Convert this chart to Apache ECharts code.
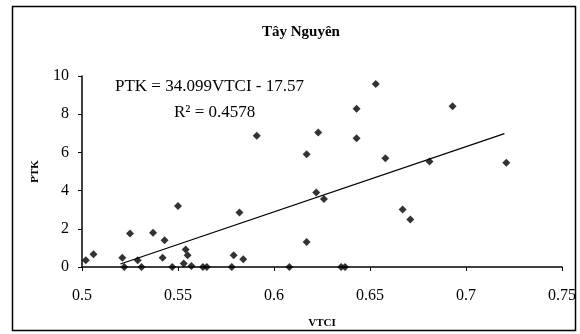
<!DOCTYPE html>
<html>
<head>
<meta charset="utf-8">
<script src="https://cdn.jsdelivr.net/npm/echarts@6/dist/echarts.min.js"></script>
<style>
html, body { margin: 0; padding: 0; background: #fff; }
#chart { width: 580px; height: 334px; }
</style>
</head>
<body>
<div id="chart"></div>
<script>
// VTCI values
const vtci = [0.502, 0.506, 0.521, 0.522, 0.525, 0.529, 0.531, 0.537, 0.543, 0.542,
  0.547, 0.550, 0.554, 0.555, 0.553, 0.557, 0.563, 0.565, 0.578, 0.579,
  0.582, 0.584, 0.591, 0.608, 0.617, 0.617, 0.622, 0.623, 0.626, 0.635,
  0.637, 0.643, 0.643, 0.653, 0.658, 0.667, 0.671, 0.681, 0.693, 0.721]
// PTK values
const ptk = [0.35, 0.67, 0.49, 0, 1.75, 0.35, 0, 1.79, 1.40, 0.49,
  0, 3.2, 0.91, 0.61, 0.18, 0.05, 0, 0, 0, 0.61,
  2.85, 0.40, 6.87, 0, 5.9, 1.31, 3.9, 7.04, 3.56, 0,
  0, 6.74, 8.28, 9.58, 5.69, 3.01, 2.49, 5.52, 8.42, 5.46]
// trend line ends (PTK = 34.099VTCI - 17.57)
const trendX = [0.52, 0.72]
const trendY = [0.16, 6.98]

const xTicks = [0.5, 0.55, 0.6, 0.65, 0.7, 0.75]
const yTicks = [0, 2, 4, 6, 8, 10]

const serif = '"Liberation Serif", "DejaVu Serif", serif'
const myChart = echarts.init(document.getElementById('chart'))

const option = {
  animation: false,
  backgroundColor: '#fff',
  title: {
    text: 'Tây Nguyên',
    left: 296,
    top: 20,
    textAlign: 'center',
    textStyle: { fontFamily: serif, fontSize: 15, fontWeight: 'bold', color: '#000' }
  },
  grid: { left: 82, right: 18, top: 76, bottom: 67 },
  xAxis: {
    type: 'value',
    min: xTicks[0],
    max: xTicks[xTicks.length - 1],
    interval: 0.05,
    name: 'VTCI',
    nameLocation: 'middle',
    nameGap: 51,
    nameTextStyle: { fontFamily: serif, fontSize: 11, fontWeight: 'bold', color: '#000' },
    axisLine: { lineStyle: { color: '#000', width: 1.5 } },
    axisTick: { show: true, length: 4, lineStyle: { color: '#000' } },
    axisLabel: {
      fontFamily: serif, fontSize: 16, color: '#000', margin: 21,
      formatter: v => String(+v.toFixed(2))
    },
    splitLine: { show: false }
  },
  yAxis: {
    type: 'value',
    min: yTicks[0],
    max: yTicks[yTicks.length - 1],
    interval: 2,
    name: 'PTK',
    nameLocation: 'middle',
    nameGap: 41,
    nameTextStyle: { fontFamily: serif, fontSize: 11, fontWeight: 'bold', color: '#000' },
    axisLine: { show: true, lineStyle: { color: '#000', width: 1.5 } },
    axisTick: { show: true, length: 4, lineStyle: { color: '#000' } },
    axisLabel: { fontFamily: serif, fontSize: 16, color: '#000', margin: 13 },
    splitLine: { show: false }
  },
  graphic: [
    {
      type: 'rect',
      shape: { x: 12.5, y: 6.5, width: 563, height: 324 },
      style: { fill: 'none', stroke: '#000', lineWidth: 1.5 },
      silent: true
    },
    {
      type: 'text', left: 115, top: 78,
      style: { text: 'PTK = 34.099VTCI - 17.57', fontFamily: serif, fontSize: 17, fill: '#000' }
    },
    {
      type: 'text', left: 174, top: 104,
      style: { text: 'R² = 0.4578', fontFamily: serif, fontSize: 17, fill: '#000' }
    }
  ],
  series: [
    {
      type: 'scatter',
      symbol: 'diamond',
      symbolSize: 8,
      itemStyle: { color: '#000' },
      data: vtci.map((x, i) => [x, ptk[i]]),
      z: 3
    },
    {
      type: 'line',
      symbol: 'none',
      lineStyle: { color: '#000', width: 1.2 },
      data: trendX.map((x, i) => [x, trendY[i]]),
      z: 2
    }
  ]
}
myChart.setOption(option)
</script>
</body>
</html>
